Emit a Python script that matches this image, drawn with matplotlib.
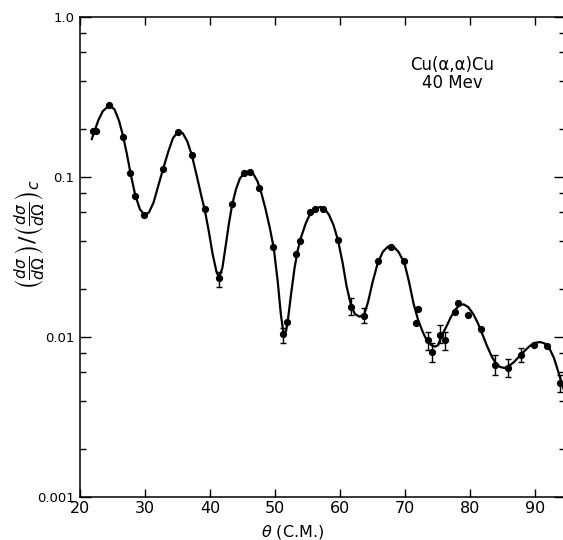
import numpy as np
import matplotlib
matplotlib.use("Agg")
import matplotlib.pyplot as plt
from matplotlib.ticker import FixedLocator, FixedFormatter, NullFormatter

# ---- data points ----
theta = [21.95, 22.46, 24.5, 26.57, 27.7, 28.46, 29.9, 32.8, 35.1, 37.2, 39.2,
         41.4, 43.34, 45.3, 46.2, 47.6, 49.74, 51.28, 51.9, 53.2, 53.85, 55.4,
         56.15, 57.4, 59.65, 61.7, 63.74, 65.8, 67.8, 69.9, 71.7, 72.05, 73.6,
         74.2, 75.4, 76.15, 77.7, 78.2, 79.7, 81.7, 83.85, 85.8, 87.8, 89.85,
         91.9, 93.85]
ratio = [0.195, 0.195, 0.281, 0.179, 0.106, 0.076, 0.0579, 0.113, 0.191, 0.137,
         0.0628, 0.0235, 0.0676, 0.106, 0.108, 0.0858, 0.0367, 0.0105, 0.0124,
         0.0332, 0.040, 0.0604, 0.0628, 0.0634, 0.0404, 0.0153, 0.0136, 0.0299,
         0.0367, 0.030, 0.0122, 0.0149, 0.00953, 0.00802, 0.01025, 0.00962,
         0.0144, 0.0162, 0.0137, 0.01127, 0.00671, 0.00637, 0.00772, 0.00891,
         0.00883, 0.00514]

# ---- error bars (angle, upper end, lower end) ----
err_theta = [41.4, 51.28, 61.7, 63.74, 73.6, 74.2, 75.4, 76.15, 83.85, 85.8, 87.8, 93.85]
err_value = [0.0235, 0.0105, 0.0153, 0.0136, 0.00953, 0.00802, 0.01025, 0.00962,
             0.00671, 0.00637, 0.00772, 0.00514]
err_high = [0.0256, 0.01138, 0.01754, 0.0152, 0.0108, 0.00917, 0.0119, 0.0108,
            0.00772, 0.00729, 0.00853, 0.00579]
err_low = [0.0206, 0.00917, 0.01372, 0.01228, 0.0083, 0.00701, 0.00917, 0.0083,
           0.00579, 0.00562, 0.00698, 0.00455]

# ---- hand-drawn fitted curve ----
curve_theta = [21.8, 22.2, 22.8, 23.5, 24.5, 25.3, 26.0, 26.6, 27.2, 27.8, 28.5,
               29.2, 29.9, 30.6, 31.3, 32.0, 32.8, 33.6, 34.3, 35.1, 35.8, 36.5,
               37.2, 38.0, 38.7, 39.2, 39.8, 40.4, 41.0, 41.4, 41.9, 42.4, 42.9,
               43.4, 44.0, 44.6, 45.3, 46.0, 46.7, 47.3, 47.8, 48.5, 49.2, 49.8,
               50.4, 50.9, 51.3, 51.7, 52.0, 52.5, 53.0, 53.5, 54.0, 54.7, 55.4,
               56.2, 57.0, 57.6, 58.3, 59.0, 59.7, 60.4, 61.0, 61.7, 62.3, 63.0,
               63.7, 64.3, 65.0, 65.8, 66.6, 67.4, 68.2, 69.0, 69.9, 70.6, 71.3,
               72.0, 72.7, 73.3, 74.0, 74.6, 75.1, 75.4, 75.8, 76.3, 77.0, 77.7,
               78.4, 79.0, 79.7, 80.5, 81.2, 81.9, 82.6, 83.3, 83.9, 84.6, 85.3,
               86.0, 86.8, 87.6, 88.4, 89.2, 90.0, 90.8, 91.5, 92.2, 92.9, 93.6,
               94.4]
curve_ratio = [0.172, 0.192, 0.225, 0.258, 0.28, 0.265, 0.225, 0.182, 0.14, 0.104,
               0.077, 0.063, 0.058, 0.06, 0.069, 0.087, 0.113, 0.145, 0.175, 0.192,
               0.188, 0.167, 0.137, 0.1, 0.075, 0.062, 0.046, 0.033, 0.0255, 0.0235,
               0.027, 0.037, 0.051, 0.067, 0.084, 0.098, 0.106, 0.109, 0.104,
               0.094, 0.082, 0.064, 0.048, 0.036, 0.0225, 0.0138, 0.0105, 0.0109,
               0.013, 0.019, 0.027, 0.035, 0.042, 0.051, 0.059, 0.0635, 0.065,
               0.0635, 0.058, 0.05, 0.040, 0.029, 0.0208, 0.0157, 0.0139, 0.0134,
               0.0138, 0.0165, 0.022, 0.029, 0.0342, 0.0368, 0.0368, 0.034, 0.029,
               0.0222, 0.0162, 0.0128, 0.0108, 0.0096, 0.0089, 0.0087, 0.0089,
               0.0097, 0.0105, 0.0115, 0.0132, 0.0148, 0.0158, 0.016, 0.0154,
               0.0139, 0.0122, 0.0104, 0.0088, 0.0076, 0.0069, 0.0065, 0.0064,
               0.0066, 0.007, 0.0076, 0.0082, 0.0088, 0.0092, 0.0093, 0.0091,
               0.0085, 0.0074, 0.006, 0.0047]

x_ticks = [20, 30, 40, 50, 60, 70, 80, 90]
y_ticks = [0.001, 0.01, 0.1, 1.0]
y_tick_labels = ["0.001", "0.01", "0.1", "1.0"]

fig = plt.figure(figsize=(5.63, 5.40), dpi=100)
ax = fig.add_axes([80 / 563, 43 / 540, 485 / 563, 480 / 540])

ax.plot(curve_theta, curve_ratio, color="black", lw=1.6, solid_joinstyle="round",
        solid_capstyle="round", zorder=2)
ev = np.array(err_value)
ax.errorbar(err_theta, err_value,
            yerr=[ev - np.array(err_low), np.array(err_high) - ev],
            fmt="none", ecolor="black", elinewidth=1.0, capsize=2.2,
            capthick=1.0, zorder=3)
ax.plot(theta, ratio, "o", color="black", ms=4.2, zorder=4)

ax.set_yscale("log")
ax.set_xlim(20, 94.6)
ax.set_ylim(0.001, 1.0)

ax.xaxis.set_major_locator(FixedLocator(x_ticks))
ax.set_xticklabels([str(t) for t in x_ticks])
ax.yaxis.set_major_locator(FixedLocator(y_ticks))
ax.yaxis.set_major_formatter(FixedFormatter(y_tick_labels))
minor = [m * d for d in (0.001, 0.01, 0.1) for m in (2, 4, 6, 8)]
ax.yaxis.set_minor_locator(FixedLocator(minor))
ax.yaxis.set_minor_formatter(NullFormatter())
ax.xaxis.set_minor_locator(FixedLocator([]))

ax.tick_params(axis="both", which="both", direction="in", top=True, right=True,
               color="black", width=1.0)
ax.tick_params(axis="y", which="major", length=8, labelsize=9.5, pad=4)
ax.tick_params(axis="y", which="minor", length=4)
ax.tick_params(axis="x", which="major", length=6, labelsize=11.5, pad=3)
for s in ax.spines.values():
    s.set_linewidth(1.1)

fig.text(293 / 563, 1 - 532 / 540, r"$\theta$ (C.M.)", ha="center", va="center",
         fontsize=11.5)
fig.text(30 / 563, 1 - 235 / 540,
         r"$\left(\frac{d\sigma}{d\Omega}\right)/\left(\frac{d\sigma}{d\Omega}\right)_c$",
         rotation=90, ha="center", va="center", fontsize=16)
fig.text(452 / 563, 1 - 74 / 540, "Cu(\u03b1,\u03b1)Cu\n40 Mev",
         ha="center", va="center", fontsize=12, linespacing=1.0)

fig.savefig("out.png", dpi=100)
